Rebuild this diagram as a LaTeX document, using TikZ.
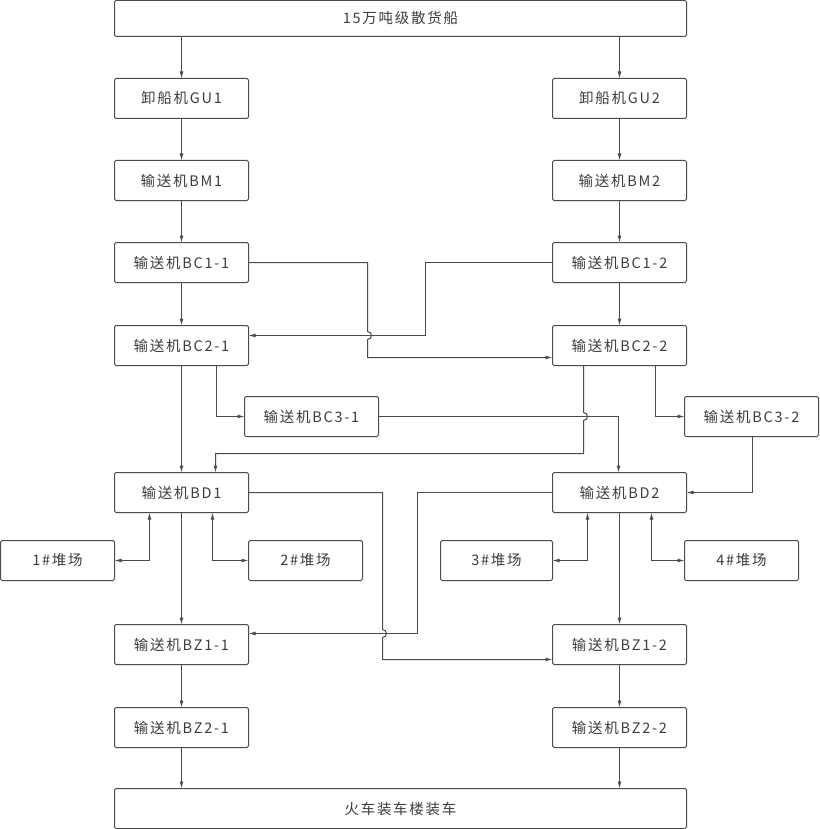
\documentclass[tikz,border=0pt]{standalone}
\usepackage{fontspec}
\setmainfont{Noto Sans CJK SC}[LetterSpace=12]
\usetikzlibrary{arrows.meta,calc}
\definecolor{lc}{RGB}{75,75,75}
\definecolor{tc}{RGB}{60,60,60}
\newcommand\lb[1]{#1\hspace{10pt}}
\begin{document}
\begin{tikzpicture}[x=1pt,y=1pt,
  box/.style={draw=lc,line width=1pt,rounded corners=1.5pt,minimum width=134pt,minimum height=40pt,inner sep=0pt,outer sep=0pt,font=\fontsize{14.5pt}{16pt}\selectfont,text=tc},
  wide/.style={box,minimum width=572pt},
  yard/.style={box,minimum width=114pt},
  arr/.style={draw=lc,line width=1pt,-{Latex[length=7pt,width=4pt]}},
  darr/.style={draw=lc,line width=1pt,{Latex[length=7pt,width=4pt]}-{Latex[length=7pt,width=4pt]}}
]
\useasboundingbox (0,0) rectangle (819,-829);
% nodes
\node[wide,minimum height=36pt] (ship) at (400.5,-18.5) {15万吨级散货船};
\node[box] (GU1) at (181.5,-98.5) {\lb{卸船机GU1}};
\node[box] (BM1) at (181.5,-180.5) {\lb{输送机BM1}};
\node[box] (BC11) at (181.5,-262.5) {\lb{输送机BC1-1}};
\node[box] (BC21) at (181.5,-345.5) {\lb{输送机BC2-1}};
\node[box] (BC31) at (311.5,-416.5) {\lb{输送机BC3-1}};
\node[box] (BD1) at (181.5,-492.5) {\lb{输送机BD1}};
\node[yard] (Y1) at (57.5,-560.5) {1\#堆场};
\node[yard] (Y2) at (305.5,-560.5) {2\#堆场};
\node[box] (BZ11) at (181.5,-644.5) {\lb{输送机BZ1-1}};
\node[box] (BZ21) at (181.5,-727.5) {\lb{输送机BZ2-1}};
\node[box] (GU2) at (619.5,-98.5) {\lb{卸船机GU2}};
\node[box] (BM2) at (619.5,-180.5) {\lb{输送机BM2}};
\node[box] (BC12) at (619.5,-262.5) {\lb{输送机BC1-2}};
\node[box] (BC22) at (619.5,-345.5) {\lb{输送机BC2-2}};
\node[box] (BC32) at (751.5,-416.5) {\lb{输送机BC3-2}};
\node[box] (BD2) at (619.5,-492.5) {\lb{输送机BD2}};
\node[yard,minimum width=112pt] (Y3) at (496.5,-560.5) {3\#堆场};
\node[yard] (Y4) at (741.5,-560.5) {4\#堆场};
\node[box] (BZ12) at (619.5,-644.5) {\lb{输送机BZ1-2}};
\node[box] (BZ22) at (619.5,-727.5) {\lb{输送机BZ2-2}};
\node[wide] (train) at (400.5,-808.5) {火车装车楼装车};
% straight connectors
\draw[arr] (ship.south -| GU1) -- (GU1);
\draw[arr] (GU1) -- (BM1);
\draw[arr] (BM1) -- (BC11);
\draw[arr] (BC11) -- (BC21);
\draw[arr] (BC21) -- (BD1);
\draw[arr] (BD1) -- (BZ11);
\draw[arr] (BZ11) -- (BZ21);
\draw[arr] (BZ21) -- (BZ21 |- train.north);
\draw[arr] (ship.south -| GU2) -- (GU2);
\draw[arr] (GU2) -- (BM2);
\draw[arr] (BM2) -- (BC12);
\draw[arr] (BC12) -- (BC22);
\draw[arr] (BD2) -- (BZ12);
\draw[arr] (BZ12) -- (BZ22);
\draw[arr] (BZ22) -- (BZ22 |- train.north);
% cross connectors
\draw[arr] (BC11.east) -- (367.5,-262.5) -- (367.5,-331.5) arc[start angle=90,end angle=-90,radius=4] -- (367.5,-357.5) -- (BC22.west |- 0,-357.5);
\draw[arr] (BC12.west) -- (425.5,-262.5) -- (425.5,-335.5) -- (BC21.east |- 0,-335.5);
\draw[arr] (BC21.south -| 216.5,0) -- (216.5,-416.5) -- (BC31.west);
\draw[arr] (BC22.south -| 583.5,0) -- (583.5,-412.5) arc[start angle=90,end angle=-90,radius=4] -- (583.5,-453.5) -- (215.5,-453.5) -- (BD1.north -| 215.5,0);
\draw[arr] (BC31.east) -- (618.5,-416.5) -- (BD2.north -| 618.5,0);
\draw[arr] (BC22.south -| 655.5,0) -- (655.5,-416.5) -- (BC32.west);
\draw[arr] (BC32.south -| 752.5,0) -- (752.5,-492.5) -- (BD2.east);
\draw[arr] (BD1.east) -- (382.5,-492.5) -- (382.5,-629.5) arc[start angle=90,end angle=-90,radius=4] -- (382.5,-659.5) -- (BZ12.west |- 0,-659.5);
\draw[arr] (BD2.west) -- (417.5,-492.5) -- (417.5,-633.5) -- (BZ11.east |- 0,-633.5);
% stockyards
\draw[darr] (Y1.east) -- (149.5,-560.5) -- (BD1.south -| 149.5,0);
\draw[darr] (Y2.west) -- (212.5,-560.5) -- (BD1.south -| 212.5,0);
\draw[darr] (Y3.east) -- (587.5,-560.5) -- (BD2.south -| 587.5,0);
\draw[darr] (Y4.west) -- (651.5,-560.5) -- (BD2.south -| 651.5,0);
\end{tikzpicture}
\end{document}
